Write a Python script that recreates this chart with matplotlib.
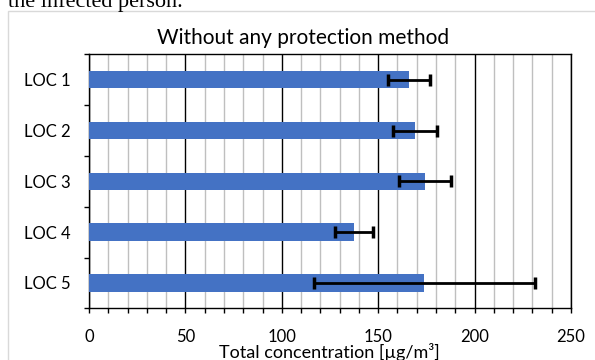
import numpy as np
import matplotlib.pyplot as plt
from matplotlib.patches import Rectangle
from matplotlib.ticker import MultipleLocator

plt.rcParams['font.family'] = ['Lato', 'DejaVu Sans']

locations = ['LOC 1', 'LOC 2', 'LOC 3', 'LOC 4', 'LOC 5']
concentration = [166, 169, 174.5, 137.5, 174]
error = [11, 11.5, 13.5, 10, 57.5]

fig = plt.figure(figsize=(5.95, 3.6), dpi=100)

# bit of page text above the chart, cut off by the screenshot
fig.text(8 / 595, 1 - 7 / 360, 'the infected person.', family='Liberation Serif',
         fontsize=16, ha='left', va='baseline', color='black')

# chart frame (runs past the right and bottom edges)
fig.patches.append(Rectangle((8 / 595, -0.1), 1.0, 1 - 11 / 360 + 0.1,
                             transform=fig.transFigure, fill=False,
                             edgecolor='#d9d9d9', linewidth=1))

ax = fig.add_axes([89 / 595, 1 - 308.3 / 360, 482 / 595, 254 / 360])

y = np.arange(len(locations))
ax.barh(y, concentration, height=0.34, color='#4472C4', zorder=3)
ax.errorbar(concentration, y, xerr=error, fmt='none', ecolor='black',
            elinewidth=2, capsize=4.5, capthick=2.5, zorder=4)

ax.set_xlim(0, 250)
ax.set_ylim(len(locations) - 0.5, -0.5)
ax.xaxis.set_major_locator(MultipleLocator(50))
ax.xaxis.set_minor_locator(MultipleLocator(10))
ax.grid(which='minor', axis='x', color='#bfbfbf', linewidth=1, zorder=1)
ax.grid(which='major', axis='x', color='black', linewidth=1, zorder=2)

ax.set_yticks(y)
ax.set_yticklabels(locations)
ax.set_yticks(np.arange(-0.5, len(locations)), minor=True)
ax.tick_params(axis='y', which='major', length=0, pad=13.5, labelsize=12)
ax.tick_params(axis='y', which='minor', length=3.6, width=1, direction='out')
ax.tick_params(axis='x', which='both', length=3.6, width=1, direction='out',
               labelsize=12, pad=11)

for s in ax.spines.values():
    s.set_color('black')
    s.set_linewidth(1)

fig.text(303 / 595, 1 - 38 / 360, 'Without any protection method',
         fontsize=15, ha='center', va='center')
fig.text(329 / 595, 1 - 358 / 360, 'Total concentration [µg/m³]',
         fontsize=13, ha='center', va='baseline')

fig.savefig('out.png', dpi=100)
